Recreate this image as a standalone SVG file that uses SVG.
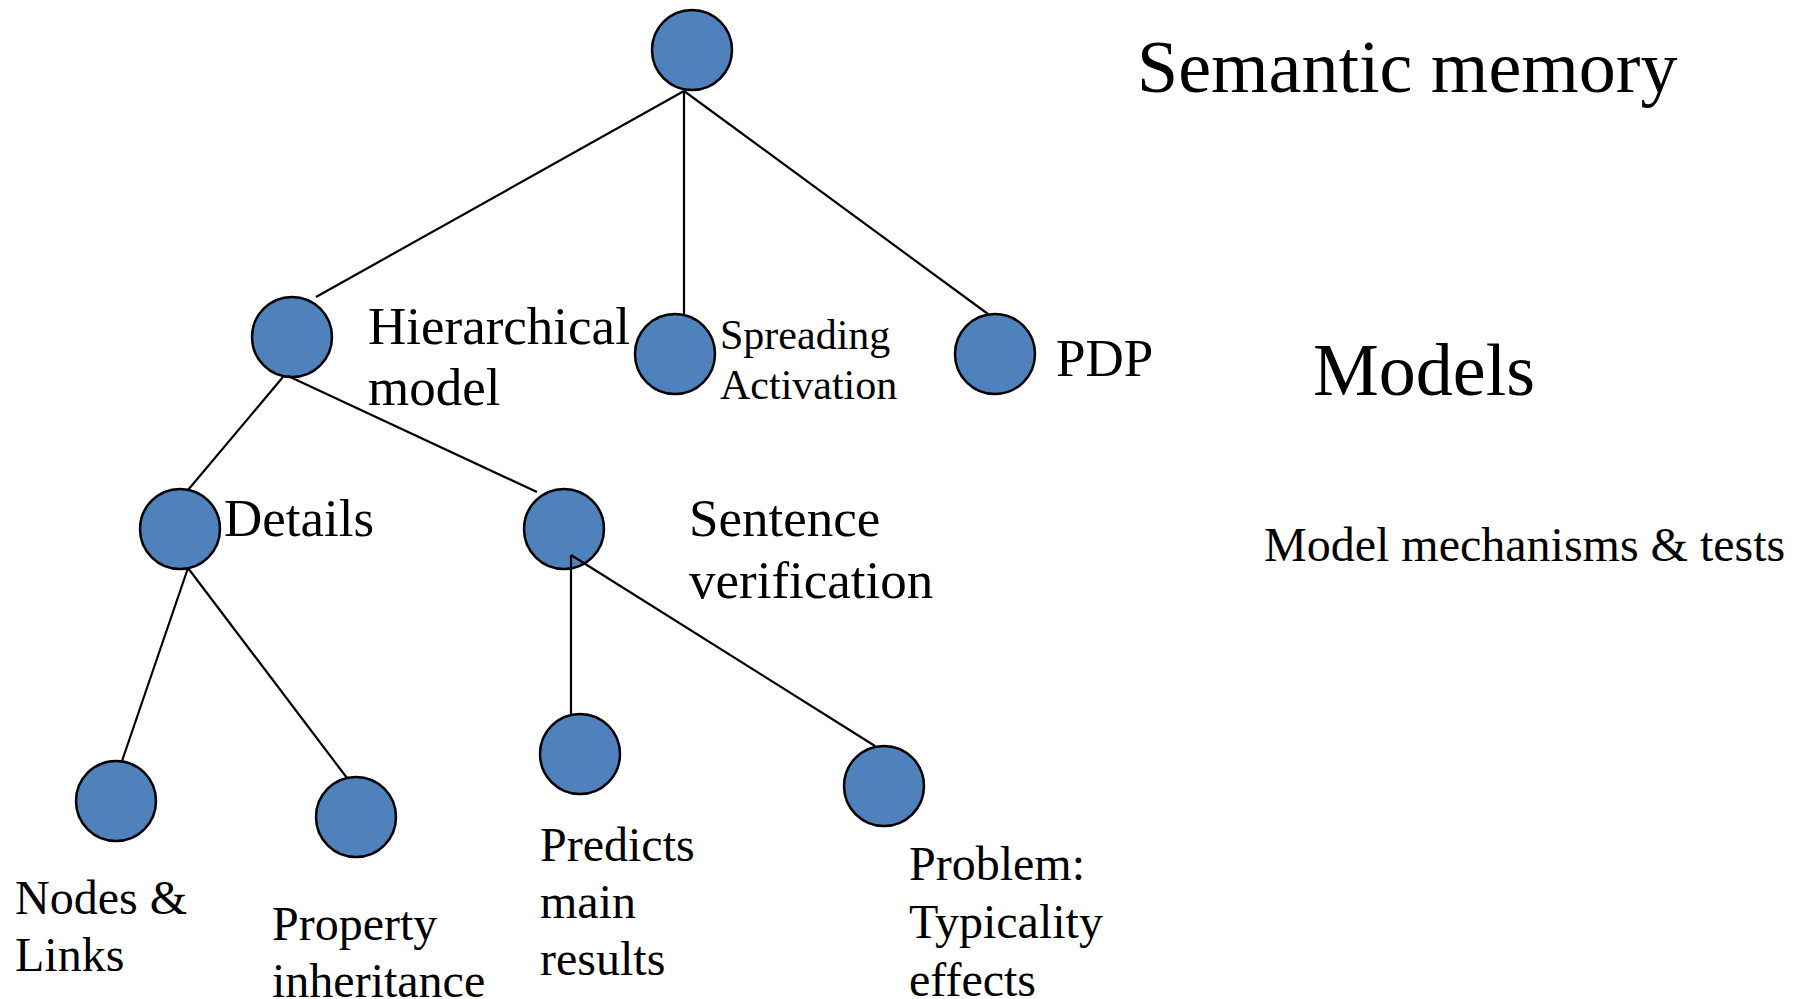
<svg xmlns="http://www.w3.org/2000/svg" width="1804" height="999" viewBox="0 0 1804 999">
  <defs>
    <style>
      .node { fill: #4F81BD; stroke: #000; stroke-width: 2.5; }
      .edge { stroke: #000; stroke-width: 2.2; fill: none; }
      text { font-family: "Liberation Serif", "Times New Roman", serif; fill: #000; }
      .title { font-size: 74px; }
      .lbl { font-size: 53px; }
      .sm { font-size: 42px; }
      .leaf { font-size: 48px; }
    </style>
  </defs>
  <rect width="1804" height="999" fill="#fff"/>

  <!-- tree nodes -->
  <g id="root"><ellipse class="node" cx="692" cy="50" rx="40" ry="40"/></g>
  <g id="hierarchical">
    <ellipse class="node" cx="292" cy="337" rx="40" ry="40"/>
    <text class="lbl" x="368" y="344">Hierarchical</text>
    <text class="lbl" x="368" y="405">model</text>
  </g>
  <g id="spreading">
    <ellipse class="node" cx="675" cy="354" rx="40" ry="40"/>
    <text class="sm" x="720" y="349">Spreading</text>
    <text class="sm" x="720" y="399">Activation</text>
  </g>
  <g id="pdp">
    <ellipse class="node" cx="995" cy="354" rx="40" ry="40"/>
    <text class="lbl" x="1056" y="376">PDP</text>
  </g>
  <g id="details">
    <ellipse class="node" cx="180" cy="529" rx="40" ry="40"/>
    <text class="lbl" x="224" y="536">Details</text>
  </g>
  <g id="sentence">
    <ellipse class="node" cx="564" cy="529" rx="40" ry="40"/>
    <text class="lbl" x="689" y="536">Sentence</text>
    <text class="lbl" x="689" y="598">verification</text>
  </g>
  <g id="nodes-links">
    <ellipse class="node" cx="116" cy="801" rx="40" ry="40"/>
    <text class="leaf" x="15" y="914">Nodes &amp;</text>
    <text class="leaf" x="15" y="971">Links</text>
  </g>
  <g id="property">
    <ellipse class="node" cx="356" cy="817" rx="40" ry="40"/>
    <text class="leaf" x="272" y="940">Property</text>
    <text class="leaf" x="272" y="997">inheritance</text>
  </g>
  <g id="predicts">
    <ellipse class="node" cx="580" cy="754" rx="40" ry="40"/>
    <text class="leaf" x="540" y="861">Predicts</text>
    <text class="leaf" x="540" y="918">main</text>
    <text class="leaf" x="540" y="975">results</text>
  </g>
  <g id="problem">
    <ellipse class="node" cx="884" cy="786" rx="40" ry="40"/>
    <text class="leaf" x="909" y="880">Problem:</text>
    <text class="leaf" x="909" y="938">Typicality</text>
    <text class="leaf" x="909" y="996">effects</text>
  </g>

  <!-- connectors -->
  <g id="connectors">
    <line class="edge" x1="684" y1="91" x2="316" y2="297"/>
    <line class="edge" x1="684" y1="91" x2="684" y2="315"/>
    <line class="edge" x1="684" y1="91" x2="988" y2="314"/>
    <line class="edge" x1="283" y1="377" x2="188" y2="490"/>
    <line class="edge" x1="288" y1="376" x2="537" y2="492"/>
    <line class="edge" x1="188" y1="568" x2="122" y2="761"/>
    <line class="edge" x1="188" y1="568" x2="347" y2="778"/>
    <line class="edge" x1="571" y1="555" x2="571" y2="714"/>
    <line class="edge" x1="571" y1="555" x2="875" y2="746"/>
  </g>

  <!-- headings -->
  <g id="headings">
    <text class="title" x="1137" y="92">Semantic memory</text>
    <text class="title" x="1313" y="395">Models</text>
    <text class="leaf" x="1264" y="561">Model mechanisms &amp; tests</text>
  </g>
</svg>
